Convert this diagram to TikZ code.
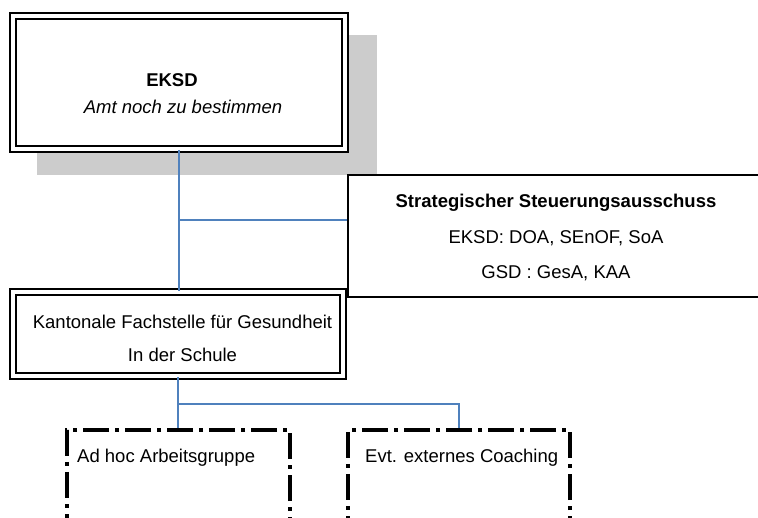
\documentclass[tikz,border=0pt]{standalone}
\usepackage{fontspec}
\setmainfont{Liberation Sans}
\definecolor{linkblue}{HTML}{4F81BD}
\definecolor{shadowgray}{HTML}{CCCCCC}

\begin{document}
\begin{tikzpicture}[
            x=1pt, y=-1pt,
            txt/.style={inner sep=0pt, font=\fontsize{18.5pt}{22pt}\selectfont},
            dblbox/.style={draw, double, line width=2pt, double distance=4pt, inner sep=0pt},
            plainbox/.style={draw, line width=1.5pt, inner sep=0pt},
            openbox/.style={draw, line width=4pt, inner sep=0pt, dash pattern=on 26pt off 6pt on 4pt off 6pt},
            link/.style={draw=linkblue, line width=1.6pt}
        ]

        \useasboundingbox (0,0) rectangle (758,518);
        \clip (0,0) rectangle (758,518);

        % shadow behind the top box
        \fill[shadowgray] (37,35) rectangle (377,175);

        \node[dblbox, fill=white, minimum width=332pt, minimum height=133pt] (eksd) at (179,82.5) {};
        \node[txt, font=\fontsize{18.5pt}{22pt}\selectfont\bfseries] (eksdname) at (172,80) {EKSD};
        \node[txt, font=\fontsize{18.5pt}{22pt}\selectfont\itshape] (eksdamt) at (183,107) {Amt noch zu bestimmen};

        \node[plainbox, minimum width=416pt, minimum height=122pt] (strat) at (556,236) {};
        \node[txt, font=\fontsize{18.5pt}{22pt}\selectfont\bfseries] (strathead) at (556,203) {Strategischer Steuerungsausschuss};
        \node[txt] (stratekss) at (556,238) {EKSD: DOA, SEnOF, SoA};
        \node[txt] (stratgsd) at (556,273) {GSD : GesA, KAA};

        \node[dblbox, minimum width=330pt, minimum height=84pt] (fach) at (178,334) {};
        \node[txt] (fachname) at (182.5,322) {Kantonale Fachstelle für Gesundheit};
        \node[txt] (fachschule) at (182.5,355) {In der Schule};

        \node[openbox, minimum width=223pt, minimum height=100pt] (adhoc) at (178.5,480) {};
        \node[txt, anchor=west] (adhoctxt) at (77,458) {Ad hoc Arbeitsgruppe};

        \node[openbox, minimum width=222pt, minimum height=100pt] (coach) at (459,480) {};
        \node[txt, anchor=west] (coachtxt) at (365,458) {Evt. externes Coaching};

        \coordinate (branch) at (179,220);
        \coordinate (fork) at (179,404);

        \draw[link] (eksd.south) -- (eksd.south |- fach.north);
        \draw[link] (branch) -- (branch -| strat.west);
        \draw[link] (fach.south) -- (fach.south |- adhoc.north);
        \draw[link] (fork) -| (coach.north);
    \end{tikzpicture}
\end{document}
